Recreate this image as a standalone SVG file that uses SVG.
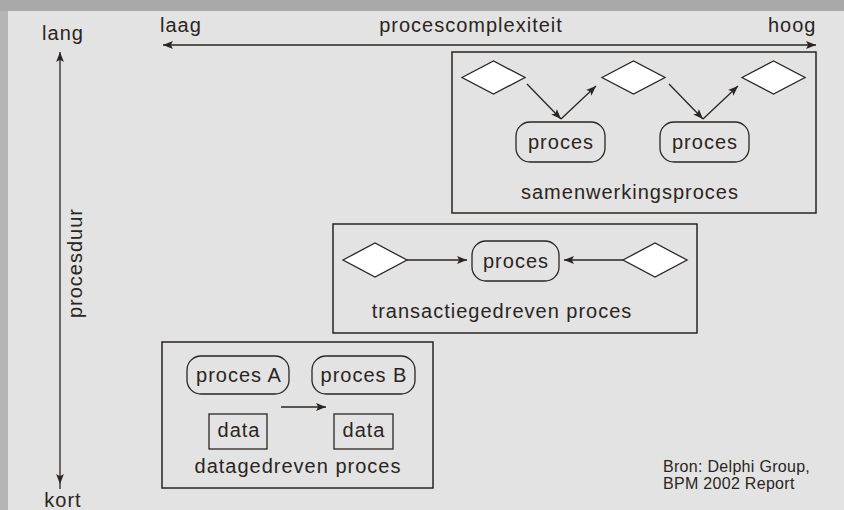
<svg xmlns="http://www.w3.org/2000/svg" width="844" height="510" viewBox="0 0 844 510">
<style>
text{font-family:"Liberation Sans",Arial,sans-serif;font-size:20px;fill:#2a2522;letter-spacing:1px}
.mid{text-anchor:middle}
.src{font-size:16px;letter-spacing:0.3px}
.frame{fill:none;stroke:#2a2522;stroke-width:1.5}
.dia{fill:#ffffff;stroke:#2a2522;stroke-width:1.3}
.proc{fill:none;stroke:#2a2522;stroke-width:1.3}
.conn line{stroke:#2a2522;stroke-width:1.3;fill:none}
</style>
<defs>
<marker id="ah" markerUnits="userSpaceOnUse" markerWidth="10" markerHeight="8" viewBox="0 0 9 7" refX="9" refY="3.5" orient="auto-start-reverse">
<path d="M0,0 L9,3.5 L0,7 L2,3.5 z" fill="#2a2522"/>
</marker>
</defs>
<rect x="0" y="0" width="844" height="510" fill="#a9a9a9"/>
<rect x="0" y="11" width="8" height="499" fill="#b5b5b5"/>
<rect x="8" y="11" width="836" height="499" fill="#e3e3e3"/>

<g id="axes">
<text class="mid" x="63" y="40">lang</text>
<text class="mid" x="63" y="507">kort</text>
<text class="mid" transform="rotate(-90 82 263)" x="82" y="263">procesduur</text>
<text x="160" y="32">laag</text>
<text class="mid" x="471" y="32">procescomplexiteit</text>
<text x="768" y="32">hoog</text>
</g>

<g id="samenwerkingsproces">
<rect class="frame" x="452" y="52" width="364" height="161"/>
<polygon class="dia" points="462,77.5 493.5,61 525,77.5 493.5,94"/>
<polygon class="dia" points="602,77.5 633.5,61 665,77.5 633.5,94"/>
<polygon class="dia" points="742,77.5 773.5,61 805,77.5 773.5,94"/>
<rect class="proc" x="516" y="122" width="89" height="40" rx="14"/>
<text class="mid" x="561" y="149">proces</text>
<rect class="proc" x="660" y="122" width="89" height="40" rx="14"/>
<text class="mid" x="705" y="149">proces</text>
<text class="mid" x="630" y="199">samenwerkingsproces</text>
</g>

<g id="transactiegedreven">
<rect class="frame" x="333" y="224" width="364" height="109"/>
<polygon class="dia" points="343,260 375,243 407,260 375,277"/>
<polygon class="dia" points="623,260 655,243 687,260 655,277"/>
<rect class="proc" x="472" y="241" width="87" height="40" rx="14"/>
<text class="mid" x="516" y="268">proces</text>
<text class="mid" x="502" y="318">transactiegedreven proces</text>
</g>

<g id="datagedreven">
<rect class="frame" x="162" y="342" width="271" height="146"/>
<rect class="proc" x="187" y="356" width="102" height="38" rx="14"/>
<text class="mid" x="239" y="382">proces A</text>
<rect class="proc" x="312" y="356" width="103" height="38" rx="14"/>
<text class="mid" x="364" y="382">proces B</text>
<rect class="proc" x="209" y="414" width="58" height="35"/>
<text class="mid" x="239" y="437">data</text>
<rect class="proc" x="334" y="414" width="59" height="35"/>
<text class="mid" x="364" y="437">data</text>
<text class="mid" x="298" y="473">datagedreven proces</text>
</g>

<g id="bron">
<text class="src" x="663" y="472">Bron: Delphi Group,</text>
<text class="src" x="663" y="489">BPM 2002 Report</text>
</g>

<g class="conn" id="connectors">
<line x1="60" y1="52" x2="60" y2="484" marker-start="url(#ah)" marker-end="url(#ah)"/>
<line x1="60" y1="484" x2="60" y2="489"/>
<line x1="163" y1="45" x2="816" y2="45" marker-start="url(#ah)" marker-end="url(#ah)"/>
<line x1="527" y1="84" x2="561" y2="119" marker-end="url(#ah)"/>
<line x1="561" y1="119" x2="596" y2="86" marker-end="url(#ah)"/>
<line x1="669" y1="84" x2="703" y2="119" marker-end="url(#ah)"/>
<line x1="703" y1="119" x2="738" y2="86" marker-end="url(#ah)"/>
<line x1="407" y1="260" x2="467" y2="260" marker-end="url(#ah)"/>
<line x1="623" y1="260" x2="564" y2="260" marker-end="url(#ah)"/>
<line x1="281" y1="407" x2="326" y2="407" marker-end="url(#ah)"/>
</g>
</svg>
